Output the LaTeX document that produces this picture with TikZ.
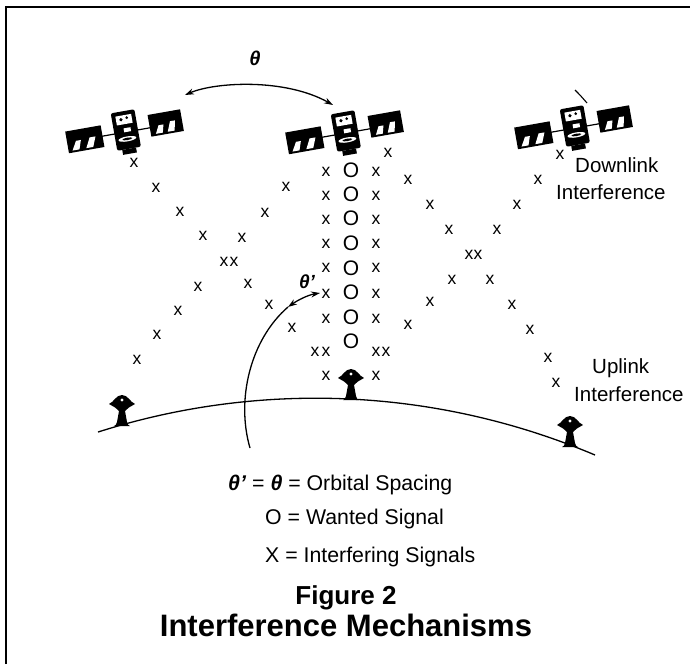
\documentclass[tikz,border=0pt]{standalone}
\usepackage{fontspec}
\setmainfont{Liberation Sans}
\usetikzlibrary{arrows.meta}
\begin{document}
\begin{tikzpicture}[x=1pt,y=-1pt,
  xsig/.style={font=\fontsize{17.5}{17.5}\selectfont, inner sep=0pt},
  osig/.style={font=\fontsize{21}{21}\selectfont, inner sep=0pt},
  lbl/.style={font=\fontsize{20.5}{20.5}\selectfont, inner sep=0pt, anchor=west},
  legend/.style={font=\fontsize{21.3}{21.3}\selectfont, inner sep=0pt, anchor=west},
  arc/.style={line width=1.3pt},
  sat/.pic={
    % boom
    \draw[line width=1.2pt] (-44,1) -- (44,1);
    % solar panels
    \fill (-60,-10) rectangle (-24,12);
    \fill[white] (-56,10) -- (-51,1) -- (-46,1) -- (-49,10) -- cycle;
    \fill[white] (-42,10) -- (-37,0) -- (-31,0) -- (-35,10) -- cycle;
    \fill (24,-12) rectangle (57,10);
    \fill[white] (29,8) -- (33,0) -- (38,0) -- (36,8) -- cycle;
    \fill[white] (41,8) -- (45,-2) -- (50,-2) -- (48,8) -- cycle;
    % body
    \fill[rounded corners=2pt] (-12,-20) rectangle (12,18);
    \fill (-7,18) rectangle (7,23);
    \fill[white] (-8,-16) rectangle (8,-7);
    \fill (-3,-12) circle (1.8);
    \fill (3,-13) circle (1.5);
    \fill[white] (-2,-3) rectangle (5,1);
    \fill[white] (0,8) ellipse (9 and 2.5);
    \fill (0,8) ellipse (5 and 1.2);
  },
  dish/.pic={
    \fill (-13,-22) .. controls (-8,-24) and (-6,-31) .. (0,-31)
      .. controls (6,-31) and (8,-24) .. (13,-22)
      .. controls (8,-19) and (5,-18) .. (3,-15)
      -- (5,-4) .. controls (6,-1) .. (8,0) -- (-8,0)
      .. controls (-6,-1) .. (-5,-4) -- (-3,-15)
      .. controls (-5,-18) and (-8,-19) .. (-13,-22) -- cycle;
    \fill[white] (0,-26) circle (1.6);
  }
]
\useasboundingbox (0,0) rectangle (690,664);

% frame
\draw[line width=1.4pt] (6,664) -- (6,7) -- (690,7);

% satellites
\pic[rotate=10] (satL) at (126,131) {sat};
\pic[rotate=10] (satM) at (346,132) {sat};
\pic[rotate=10] (satR) at (575,127) {sat};
\draw[line width=1.1pt] (575,90) .. controls (580,95) .. (587,103);

% earth surface
\draw[line width=1.3pt] plot[domain=98:595, samples=80]
  (\x, {1114.2 - 10*sqrt(5126.56 - ((\x-315.5)/10)^2)});

% earth stations
\pic (stL) at (122,426) {dish};
\pic (stM) at (351,400) {dish};
\pic (stR) at (570,447) {dish};

% orbital spacing arc between satellites
\coordinate (thA) at (185,95);
\coordinate (thB) at (333,105);
\draw[arc, {Stealth[length=9pt,width=6pt]}-{Stealth[length=9pt,width=6pt]}]
  (thA) .. controls (215,82) and (285,78) .. (thB);
\node[font=\fontsize{20}{20}\selectfont\bfseries\itshape] (th) at (255,58) {θ};

% angle seen from the earth station
\coordinate (tpA) at (250,448);
\coordinate (tpM) at (288,307);
\coordinate (tpB) at (320,293);
\draw[arc] (tpA) .. controls (236,400) and (250,340) .. (tpM);
\draw[arc, {Stealth[length=9pt,width=6pt]}-{Stealth[length=9pt,width=6pt]}]
  (tpM) .. controls (298,300) and (308,295) .. (tpB);
\node[font=\fontsize{19}{19}\selectfont\bfseries\itshape] (thp) at (307,282) {θ'};

% wanted signal
\foreach \y [count=\i] in {170,194,218,243,268,292,317,341}
  \node[osig] (o\i) at (351,\y) {O};

% interfering signals: columns beside the wanted path
\foreach \y [count=\i] in {172,196,220,244,268,294,319,352,376}
  \node[xsig] (cl\i) at (326,\y) {x};
\foreach \y [count=\i] in {172,196,220,244,268,294,319,352,376}
  \node[xsig] (cr\i) at (376,\y) {x};
\node[xsig] (cl0) at (315,352) {x};
\node[xsig] (cr0) at (386,352) {x};

% interfering signals: left satellite to centre station
\foreach \p [count=\i] in {(134,163),(156,188),(180,212),(203,236),(224,262),(248,284),(269,305),(292,328)}
  \node[xsig] (da\i) at \p {x};
% left station to centre satellite
\foreach \p [count=\i] in {(137,360),(157,335),(178,311),(198,287),(234,262),(242,238),(265,213),(286,187)}
  \node[xsig] (db\i) at \p {x};
% centre satellite to right station
\foreach \p [count=\i] in {(388,153),(408,180),(430,205),(449,230),(469,255),(490,280),(512,305),(530,330),(548,358),(556,383)}
  \node[xsig] (dc\i) at \p {x};
% right satellite to centre station
\foreach \p [count=\i] in {(560,155),(538,180),(517,205),(497,230),(478,255),(452,280),(430,302),(408,325)}
  \node[xsig] (dd\i) at \p {x};

% side labels
\node[lbl] (dl1) at (575,165) {Downlink};
\node[lbl] (dl2) at (556,192) {Interference};
\node[lbl] (ul1) at (592,368) {Uplink};
\node[lbl] (ul2) at (574,394) {Interference};

% legend
\node[legend] (lg1) at (228,485) {\textbf{\textit{θ'}} = \textbf{\textit{θ}} = Orbital Spacing};
\node[legend] (lg2) at (265,519) {O = Wanted Signal};
\node[legend] (lg3) at (265,557) {X = Interfering Signals};

% caption
\node[font=\fontsize{26}{26}\selectfont\bfseries, inner sep=0pt] (fig) at (346,598) {Figure 2};
\node[font=\fontsize{31}{31}\selectfont\bfseries, inner sep=0pt] (ttl) at (346,625) {Interference Mechanisms};
\end{tikzpicture}
\end{document}
